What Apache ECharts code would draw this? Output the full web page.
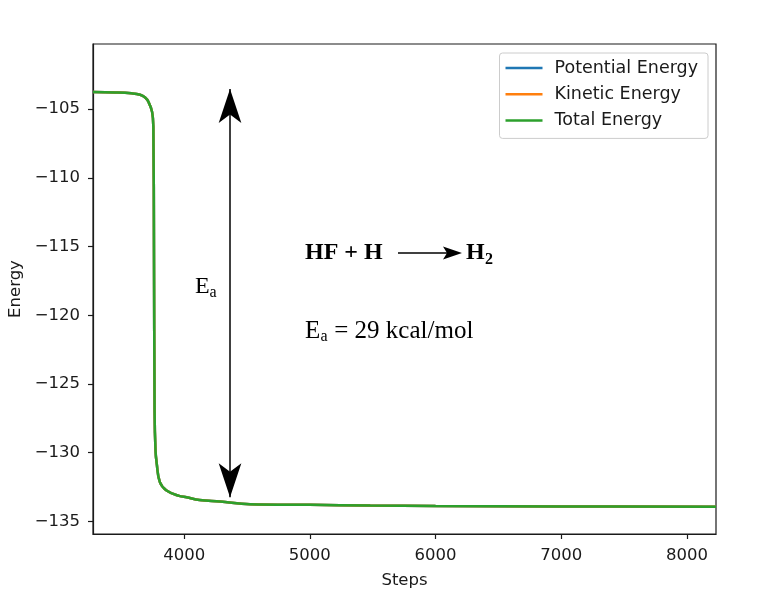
<!DOCTYPE html>
<html>
<head>
<meta charset="utf-8">
<script src="https://cdn.jsdelivr.net/npm/echarts@6/dist/echarts.min.js"></script>
<style>
  html, body { margin: 0; padding: 0; background: #fff; }
  #container { width: 780px; height: 599px; }
</style>
</head>
<body>
<div id="container"></div>
<script>
// values
var steps = [3275, 3450, 3580, 3650, 3690, 3715, 3745, 3755, 3760, 3765, 3772, 3782, 3807, 3860, 3960, 4020, 4122, 4285, 4524, 5000, 5480, 6000, 7000, 8231];
var totalEnergy = [-103.76, -103.79, -103.85, -103.95, -104.15, -104.45, -105.2, -106.3, -115, -127, -129.8, -130.8, -132.15, -132.76, -133.15, -133.25, -133.45, -133.56, -133.75, -133.8, -133.85, -133.88, -133.91, -133.93];
// the other two curves sit right under the green one
var potentialEnergy = totalEnergy;
var kineticEnergy = totalEnergy;

var seriesNames = ['Potential Energy', 'Kinetic Energy', 'Total Energy'];
var xTicks = [4000, 5000, 6000, 7000, 8000];
var yTicks = [-135, -130, -125, -120, -115, -110, -105];

// E_a double arrow: step, energy at the two tips
var eaStep = 4365;
var eaRange = [-103.54, -133.25];

var dom = document.getElementById('container');
var myChart = echarts.init(dom);

var pairs = function (ys) {
  var res = [];
  for (var i = 0; i < steps.length; i++) {
    res.push([steps[i], ys[i]]);
  }
  return res;
};

var plain = function (v) {
  return String(v).replace('-', '\u2212');
};

var tickFont = { fontFamily: 'DejaVu Sans', fontSize: 16.5, color: '#1a1a1a' };
var serif = '"Liberation Serif"';

var lineSeries = function (name, ys, color) {
  return {
    name: name,
    type: 'line',
    data: pairs(ys),
    showSymbol: false,
    smooth: 0.4,
    animation: false,
    lineStyle: { color: color, width: 2.5 },
    itemStyle: { color: color }
  };
};

var total = lineSeries(seriesNames[2], totalEnergy, '#2ca02c');
total.markLine = {
  silent: true,
  animation: false,
  symbol: ['arrow', 'arrow'],
  symbolSize: [17, 34],
  label: { show: false },
  lineStyle: { color: '#000', width: 1.5, type: 'solid' },
  data: [[{ coord: [eaStep, eaRange[0]] }, { coord: [eaStep, eaRange[1]] }]]
};

var txt = function (x, y, s, font) {
  return { type: 'text', x: x, y: y, style: { text: s, font: font, fill: '#000', verticalAlign: 'middle' } };
};

var option = {
  backgroundColor: '#fff',
  animation: false,
  grid: {
    left: 93, top: 44, right: 64, bottom: 65,
    outerBoundsMode: 'none',
    containLabel: false,
    show: true, borderColor: '#1a1a1a', borderWidth: 1.2, backgroundColor: 'transparent'
  },
  legend: {
    orient: 'vertical',
    right: 72, top: 53,
    padding: [6, 10, 9, 6],
    borderColor: '#cccccc', borderWidth: 1, borderRadius: 3,
    backgroundColor: 'rgba(255,255,255,0.8)',
    icon: 'rect',
    itemWidth: 37, itemHeight: 2.5,
    itemGap: 8.2,
    data: seriesNames,
    textStyle: { fontFamily: 'DejaVu Sans', fontSize: 17.5, color: '#1a1a1a', lineHeight: 17.5, padding: [0, 0, 0, 7] }
  },
  xAxis: {
    type: 'value',
    min: 3275, max: 8231,
    name: 'Steps', nameLocation: 'middle', nameGap: 38,
    nameTextStyle: tickFont,
    axisLine: { show: true, lineStyle: { color: '#1a1a1a', width: 1.2 } },
    axisTick: { show: true, length: 5, lineStyle: { color: '#1a1a1a', width: 1.2 }, customValues: xTicks },
    axisLabel: Object.assign({ margin: 13, customValues: xTicks, formatter: plain }, tickFont),
    splitLine: { show: false }
  },
  yAxis: {
    type: 'value',
    min: -135.92, max: -100.26,
    name: 'Energy', nameLocation: 'middle', nameGap: 67, nameRotate: 90,
    nameTextStyle: tickFont,
    axisLine: { show: true, lineStyle: { color: '#1a1a1a', width: 1.2 } },
    axisTick: { show: true, length: 5, lineStyle: { color: '#1a1a1a', width: 1.2 }, customValues: yTicks },
    axisLabel: Object.assign({ margin: 13, customValues: yTicks, formatter: plain }, tickFont),
    splitLine: { show: false }
  },
  graphic: [
    // E_a beside the arrow
    txt(195, 287, 'E', '24px ' + serif),
    txt(209.5, 293, 'a', '16px ' + serif),
    // reaction
    txt(305, 253, 'HF + H', 'bold 24px ' + serif),
    { type: 'line', shape: { x1: 398, y1: 253, x2: 450, y2: 253 }, style: { stroke: '#000', lineWidth: 1.3 } },
    { type: 'polygon', shape: { points: [[462, 253], [443, 246.6], [447, 253], [443, 259.4]] }, style: { fill: '#000' } },
    txt(466, 253, 'H', 'bold 24px ' + serif),
    txt(485, 260, '2', 'bold 16px ' + serif),
    // activation energy value
    txt(305, 331, 'E', '25px ' + serif),
    txt(320.5, 337, 'a', '16px ' + serif),
    txt(328, 331, ' = 29 kcal/mol', '25px ' + serif)
  ],
  series: [
    lineSeries(seriesNames[0], potentialEnergy, '#1f77b4'),
    lineSeries(seriesNames[1], kineticEnergy, '#ff7f0e'),
    total
  ]
};

myChart.setOption(option);
window.onresize = myChart.resize;
</script>
</body>
</html>
